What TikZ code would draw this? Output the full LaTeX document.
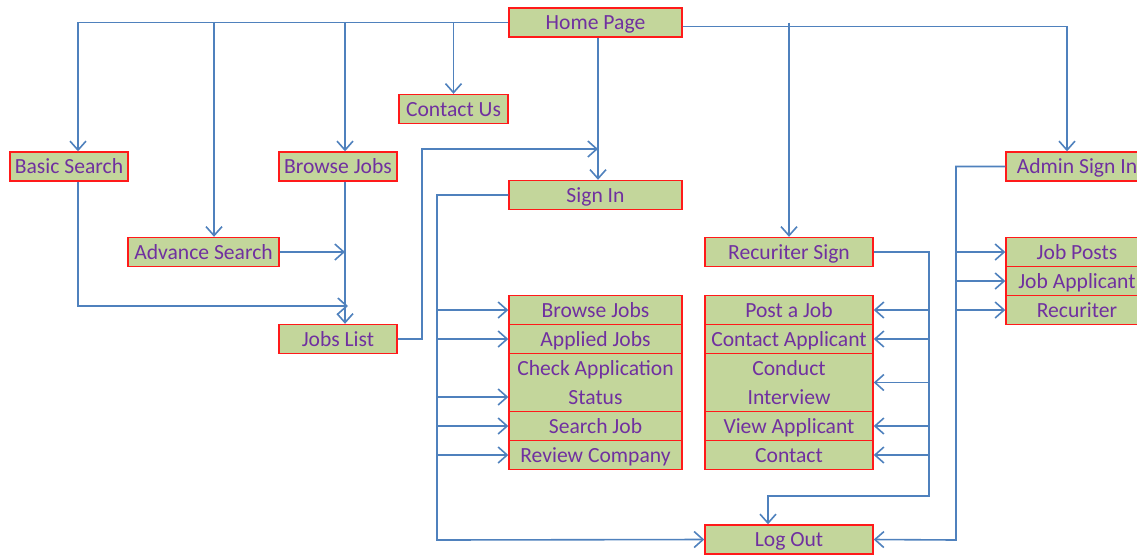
\documentclass[tikz,border=0pt]{standalone}
\usepackage{fontspec}
\setmainfont{Carlito}
\usetikzlibrary{arrows.meta}
\definecolor{boxfill}{HTML}{C3D69B}
\definecolor{boxline}{HTML}{FF1A1A}
\definecolor{boxtext}{HTML}{7030A0}
\definecolor{wire}{HTML}{4F81BD}

\begin{document}
\begin{tikzpicture}[x=0.5pt, y=-0.5pt,
    cell/.style={draw=boxline, fill=boxfill, text=boxtext, line width=0.7pt,
      minimum height=14.5pt, inner sep=0pt, align=center,
      font=\fontsize{10.8}{14.5}\selectfont},
    box/.style={cell, text height=9pt, text depth=2pt},
    wide/.style={box, minimum width=86.5pt},
    mid/.style={box, minimum width=84pt},
    small/.style={box, minimum width=59pt},
    side/.style={box, minimum width=71pt},
    tall/.style={cell, minimum height=29pt},
    link/.style={draw=wire, line width=0.8pt},
    arr/.style={link, -{Straight Barb[length=4.5pt, width=8pt]}}]

    \useasboundingbox (0,0) rectangle (1137,554);

    \node[wide] (home) at (595.5,22.5) {Home Page};
    \node[box, minimum width=54.5pt] (contact) at (453.5,109) {Contact Us};
    \node[small] (basic) at (69,166.5) {Basic Search};
    \node[small] (browse) at (338,166.5) {Browse Jobs};
    \node[wide] (sign) at (595.5,195) {Sign In};
    \node[side] (admin) at (1077,166.5) {Admin Sign In};
    \node[box, minimum width=75.5pt] (advance) at (203.5,252) {Advance Search};
    \node[mid] (recsign) at (789,252) {Recuriter Sign};
    \node[small] (jobs) at (338,339) {Jobs List};

    \node[wide] (bj) at (595.5,310) {Browse Jobs};
    \node[wide] (aj) at (595.5,339) {Applied Jobs};
    \node[tall, minimum width=86.5pt] (cas) at (595.5,382.5) {Check Application\\Status};
    \node[wide] (sj) at (595.5,426) {Search Job};
    \node[wide] (rc) at (595.5,455) {Review Company};

    \node[mid] (pj) at (789,310) {Post a Job};
    \node[mid] (ca) at (789,339) {Contact Applicant};
    \node[tall, minimum width=84pt] (ci) at (789,382.5) {Conduct\\Interview};
    \node[mid] (va) at (789,426) {View Applicant};
    \node[mid] (ct) at (789,455) {Contact};

    \node[side] (jp) at (1077,252) {Job Posts};
    \node[side] (ja) at (1077,281) {Job Applicant};
    \node[side] (rec) at (1077,310) {Recuriter};

    \node[mid] (logout) at (789,539.5) {Log Out};

    \draw[arr] (home.west) -| ([xshift=4.5pt]basic.north);
    \draw[arr] ([xshift=5.25pt]advance.north |- home.west) -- ([xshift=5.25pt]advance.north);
    \draw[arr] ([xshift=3.5pt]browse.north |- home.west) -- ([xshift=3.5pt]browse.north);
    \draw[arr] (contact.north |- home.west) -- (contact.north);
    \draw[arr] ([xshift=1.25pt]home.south) -- ([xshift=1.25pt]sign.north);
    \draw[arr] ([yshift=-2pt]home.east) -| ([xshift=-5pt]admin.north);
    \draw[arr] (recsign.north |- home.east) -- (recsign.north);

    \coordinate (jl) at (348,306);
    \draw[arr] ([xshift=4.5pt]basic.south) |- (jl);
    \draw[arr] ([xshift=3.5pt]browse.south) -- ([xshift=3.5pt]jobs.north);
    \draw[arr] (advance.east) -- ([xshift=3.5pt]browse.south |- advance.east);

    \coordinate (back) at (422,149);
    \draw[arr] (jobs.east) -| (back) -- ([xshift=1.25pt]home.south |- back);

    \coordinate (sl) at (437,540);
    \draw[arr] (sign.west) -| (sl) -- (logout.west);
    \foreach \n in {bj,aj,sj,rc}
      \draw[arr] (sl |- \n.west) -- (\n.west);
    \draw[arr] ([yshift=-7.25pt]cas.west -| sl) -- ([yshift=-7.25pt]cas.west);

    \coordinate (rr) at (929,496);
    \coordinate (rl) at (768,496);
    \draw[arr] (recsign.east) -| (rr) -- (rl) -- ([xshift=-10.5pt]logout.north);
    \foreach \n in {pj,ca,ci,va,ct}
      \draw[arr] (rr |- \n.east) -- (\n.east);

    \coordinate (al) at (956,540);
    \draw[arr] (admin.west) -| (al) -- (logout.east);
    \foreach \n in {jp,ja,rec}
      \draw[arr] (al |- \n.west) -- (\n.west);
  \end{tikzpicture}
\end{document}
